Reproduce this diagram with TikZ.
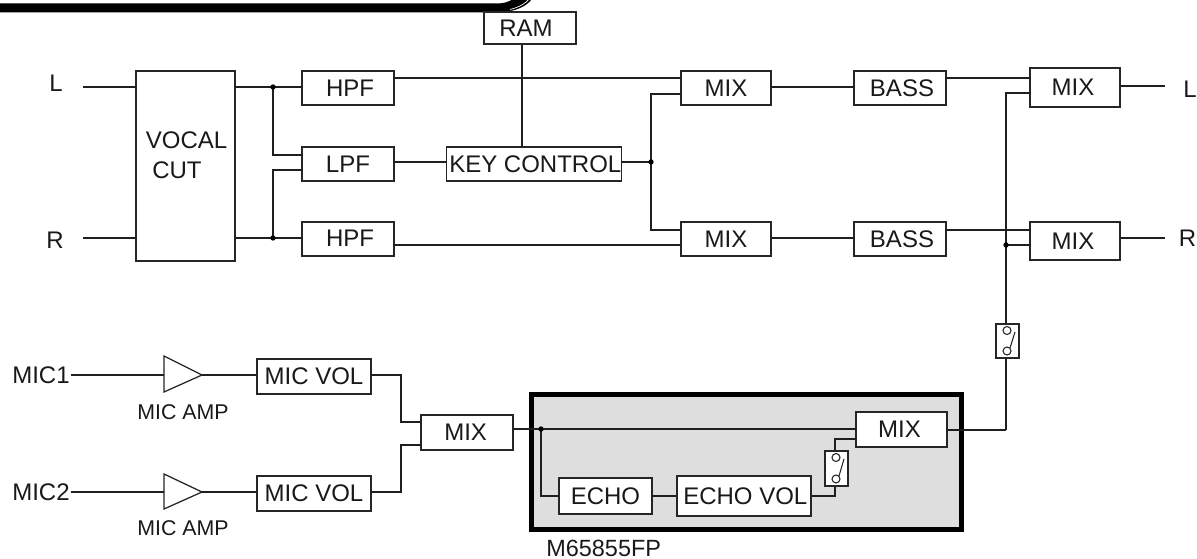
\documentclass[tikz,border=0pt]{standalone}
\usepackage{fontspec}
\setmainfont{Liberation Sans}
\tikzset{
  wire/.style={draw=black!88,line width=0.95pt},
  block/.style={draw=black!85,line width=1pt,fill=white,inner sep=0pt},
  lbl/.style={font=\fontsize{18}{20}\selectfont,inner sep=0pt,text=black!90},
  small/.style={font=\fontsize{16}{18}\selectfont,inner sep=0pt,text=black!90},
  dotj/.style={circle,fill=black,inner sep=0pt,minimum size=4pt},
  tri/.style={draw=black!85,line width=0.95pt,fill=white},
  swpart/.style={line width=0.8pt,draw=black!85},
}
\newcommand{\bx}[6]{% name x0 y0 x1 y1 text
  \node[block,minimum width={(#4-#2)*0.75pt},minimum height={(#5-#3)*0.75pt},lbl] (#1) at ({(#2+#4)/2},{(#3+#5)/2}) {#6};}
\newcommand{\swt}[5]{% name x0 y0 x1 y1
  \node[block,minimum width={(#4-#2)*0.75pt},minimum height={(#5-#3)*0.75pt}] (#1) at ({(#2+#4)/2},{(#3+#5)/2}) {};
  \draw[swpart] ({#2+11},{#3+6.5}) circle (4);
  \draw[swpart] ({#2+11},{#5-7}) circle (4);
  \draw[swpart] ({#2+14},{#5-10}) -- ({#2+19},{#3+8});}
\begin{document}
\begin{tikzpicture}[x=0.75pt,y=-0.75pt]
\useasboundingbox (0,0) rectangle (1197,559);
% top bar
\fill[black] (0,3.5) -- (497,3.5) .. controls (503,3.5) and (509,2) .. (513,-1) -- (532,-1) .. controls (526,7) and (514,12.3) .. (497,12.3) -- (0,12.3) -- cycle;
\draw[white,line width=0.5pt] (510,9.5) .. controls (520,7) and (526,3) .. (529,-1);
% grey box
\node[draw=black,line width=4pt,fill=black!13,minimum width={430*0.75pt},minimum height={135*0.75pt},inner sep=0pt] (chip) at (746.5,462) {};
% helper coordinates
\coordinate (L) at (83,87); \coordinate (R) at (83,238);
\coordinate (jL) at (273,87); \coordinate (jR) at (273,238);
\coordinate (jK) at (651,162); \coordinate (jS) at (1006,245);
\coordinate (jE) at (541,429);
\coordinate (Lo) at (1165,86); \coordinate (Ro) at (1165,238);
\coordinate (m1) at (71,375); \coordinate (m2) at (71,492);
\coordinate (bend) at (1006,430);
\coordinate (sb) at (835,496);
\coordinate (rk) at (522,100);
% blocks
\bx{ram}{484}{12}{576}{44}{\hspace*{-6pt}\raisebox{-.5pt}{RAM}}
\bx{vocal}{136}{71}{235}{261}{}
\bx{hpfa}{302}{71}{394}{105}{\hspace*{3pt}HPF}
\bx{lpf}{302}{147}{394}{181}{LPF}
\bx{hpfb}{302}{222}{394}{256}{\hspace*{3pt}\raisebox{1pt}{HPF}}
\bx{key}{447}{147}{621}{181}{\hspace*{2pt}KEY CONTROL}
\bx{mixa}{681}{71}{771}{105}{MIX}
\bx{mixb}{681}{222}{771}{256}{MIX}
\bx{bassa}{854}{71}{946}{105}{\hspace*{3pt}BASS}
\bx{bassb}{854}{222}{946}{256}{\hspace*{3pt}\raisebox{-1pt}{BASS}}
\bx{mixc}{1030}{68}{1120}{107}{\hspace*{-3pt}MIX}
\bx{mixd}{1030}{222}{1120}{260}{\hspace*{-3pt}MIX}
\swt{swa}{996}{324}{1019}{358}
\bx{volc}{257}{359}{371}{394}{MIC VOL}
\bx{vold}{257}{476}{371}{511}{MIC VOL}
\bx{mixe}{421}{415}{513}{450}{\hspace*{-2pt}MIX}
\bx{mixf}{856}{412}{947}{447}{\hspace*{-3pt}MIX}
\bx{echo}{559}{478}{652}{514}{ECHO}
\bx{evol}{677}{476}{811}{516}{\hspace*{2pt}ECHO VOL}
\swt{swb}{825}{451}{848}{486}
\draw[tri] (164,356) -- (202,375) -- (164,392) -- cycle;
\draw[tri] (164,474) -- (202,492) -- (164,509) -- cycle;
\coordinate (tac) at (164,375); \coordinate (tao) at (202,375);
\coordinate (tbc) at (164,492); \coordinate (tbo) at (202,492);
% connectors
\draw[wire] (L) -- (136,87);
\draw[wire] (R) -- (136,238);
\draw[wire] (235,87) -- (jL) -- (302,87);
\draw[wire] (235,238) -- (jR) -- (302,238);
\draw[wire] (jL) |- (302,155);
\draw[wire] (jR) |- (302,170);
\draw[wire] (394,78) -- (681,78);
\draw[wire] (394,245) -- (681,245);
\draw[wire] (rk |- ram.south) -- (rk |- key.north);
\draw[wire] (394,162) -- (447,162);
\draw[wire] (621,162) -- (jK);
\draw[wire] (jK) |- (681,94);
\draw[wire] (jK) |- (681,230);
\draw[wire] (771,87) -- (854,87);
\draw[wire] (771,238) -- (854,238);
\draw[wire] (946,78) -- (1030,78);
\draw[wire] (946,230) -- (1030,230);
\draw[wire] (1030,93) -| (jS);
\draw[wire] (jS) -- (1030,245);
\draw[wire] (jS) -- (jS |- swa.north);
\draw[wire] (jS |- swa.south) -- (bend);
\draw[wire] (bend) -- (947,430);
\draw[wire] (1120,86) -- (Lo);
\draw[wire] (1120,238) -- (Ro);
\draw[wire] (m1) -- (tac);
\draw[wire] (m2) -- (tbc);
\draw[wire] (tao) -- (257,375);
\draw[wire] (tbo) -- (257,492);
\draw[wire] (371,375) -- (401,375) -- (401,422) -- (421,422);
\draw[wire] (371,492) -- (401,492) -- (401,445) -- (421,445);
\draw[wire] (513,429) -- (856,429);
\draw[wire] (jE) |- (559,496);
\draw[wire] (652,496) -- (677,496);
\draw[wire] (811,496) -- (sb) -- (sb |- swb.south);
\draw[wire] (sb |- swb.north) -- (835,439) -- (856,439);
\node[dotj] (d1) at (jL) {}; \node[dotj] (d2) at (jR) {};
\node[dotj] (d3) at (jK) {}; \node[dotj] (d4) at (jS) {};
\node[dotj] (d5) at (jE) {};
% labels
\node[lbl] (tL) at (56,83) {L};
\node[lbl] (tR) at (55,240.5) {R};
\node[lbl,anchor=west] (tLo) at (1183,89) {L};
\node[lbl,anchor=west] (tRo) at (1178.5,238) {R};
\node[lbl] (t1) at (186.5,140.5) {VOCAL};
\node[lbl] (t2) at (177,170) {CUT};
\node[lbl,anchor=west] (t3) at (12,375.5) {MIC1};
\node[lbl,anchor=west] (t4) at (12,492.5) {MIC2};
\node[small] (t5) at (183,412.5) {MIC AMP};
\node[small] (t6) at (183,528) {MIC AMP};
\node[lbl,font=\fontsize{17.6}{19}\selectfont,anchor=west] (t7) at (546,548) {M65855FP};
\end{tikzpicture}
\end{document}
